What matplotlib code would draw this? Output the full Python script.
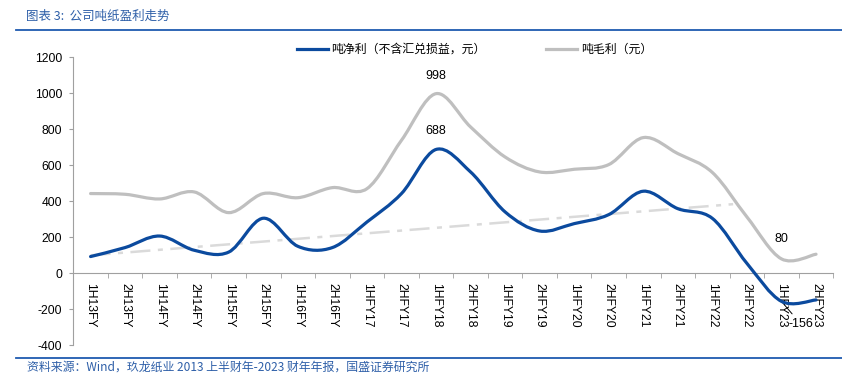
import matplotlib
matplotlib.use("Agg")
import matplotlib.pyplot as plt
import numpy as np
from matplotlib.path import Path
from matplotlib.patches import PathPatch
from matplotlib.lines import Line2D

plt.rcParams['font.family'] = ['Liberation Sans', 'Noto Sans CJK SC', 'DejaVu Sans']
plt.rcParams['axes.unicode_minus'] = False

# ---------------------------------------------------------------------------
# Data
# ---------------------------------------------------------------------------
periods = ["1H13FY", "2H13FY", "1H14FY", "2H14FY", "1H15FY", "2H15FY",
           "1H16FY", "2H16FY", "1HFY17", "2HFY17", "1HFY18", "2HFY18",
           "1HFY19", "2HFY19", "1HFY20", "2HFY20", "1HFY21", "2HFY21",
           "1HFY22", "2HFY22", "1HFY23", "2HFY23"]
net_profit = [93, 143, 207, 128, 118, 306, 150, 143, 285, 443, 688, 563,
              341, 235, 276, 326, 456, 359, 305, 55, -156, -148]
gross_profit = [443, 439, 413, 452, 337, 443, 420, 476, 470, 739, 998, 813,
                646, 563, 578, 604, 754, 665, 560, 313, 80, 106]
trend_x = [0, 18.6]
trend_y = [100, 384]

NET_LABEL = "吨净利（不含汇兑损益，元）"
GROSS_LABEL = "吨毛利（元）"
TITLE = "图表 3:  公司吨纸盈利走势"
SOURCE = "资料来源：Wind，玖龙纸业 2013 上半财年-2023 财年年报，国盛证券研究所"

BLUE = "#0B4A9E"
GRAY = "#BFBFBF"
TREND = "#DADADA"
HEAD = "#2E5FA8"


def smooth_path(xs, ys):
    """Excel-like smoothed line as cubic Bezier segments."""
    pts = np.column_stack([xs, ys]).astype(float)
    padded = np.vstack([pts[0], pts, pts[-1]])
    verts = [pts[0]]
    codes = [Path.MOVETO]
    for i in range(len(pts) - 1):
        p0, p1, p2, p3 = padded[i], padded[i + 1], padded[i + 2], padded[i + 3]
        verts += [p1 + (p2 - p0) / 6, p2 - (p3 - p1) / 6, p2]
        codes += [Path.CURVE4] * 3
    return Path(verts, codes)


W, H = 842, 383
fig = plt.figure(figsize=(W / 100, H / 100), dpi=100)
ax = fig.add_axes([73.3 / W, 1 - 345.3 / H, 760 / W, 288 / H])

x = np.arange(len(periods))

ax.plot(trend_x, trend_y, color=TREND, lw=1.8, dashes=(8, 3, 2, 3), zorder=2)
ax.add_patch(PathPatch(smooth_path(x, gross_profit), fill=False, ec=GRAY,
                       lw=2.3, capstyle="round", zorder=3))
ax.add_patch(PathPatch(smooth_path(x, net_profit), fill=False, ec=BLUE,
                       lw=2.3, capstyle="round", zorder=4))

ax.set_xlim(-0.5, len(periods) - 0.5)
ax.set_ylim(-400, 1200)
ax.set_yticks(np.arange(-400, 1201, 200))
ax.set_xticks(x)
ax.set_xticks(np.arange(-0.5, len(periods), 1), minor=True)
ax.set_xticklabels(periods)
ax.tick_params(axis="x", which="major", length=0, pad=7, labelsize=8.7,
               labelrotation=270)
ax.tick_params(axis="x", which="minor", length=3.5, color="#A0A0A0", direction="out")
ax.tick_params(axis="y", length=3, color="#A0A0A0", pad=5, labelsize=8.7)
for lab in ax.get_xticklabels():
    lab.set_va("top")
    lab.set_ha("center")

for s in ("top", "right"):
    ax.spines[s].set_visible(False)
ax.spines["bottom"].set_position(("data", 0))
ax.spines["bottom"].set_color("#A0A0A0")
ax.spines["left"].set_color("#A0A0A0")

# data labels
i_peak = 10
ax.annotate(f"{gross_profit[i_peak]}", (i_peak, gross_profit[i_peak]),
            xytext=(0, 13), textcoords="offset points", ha="center", va="center", fontsize=9)
ax.annotate(f"{net_profit[i_peak]}", (i_peak, net_profit[i_peak]),
            xytext=(0, 13), textcoords="offset points", ha="center", va="center", fontsize=9)
ax.annotate(f"{gross_profit[20]}", (20, gross_profit[20]),
            xytext=(0, 14), textcoords="offset points", ha="center", va="center", fontsize=9)
ax.annotate(f"{net_profit[20]}", (20, net_profit[20]),
            xytext=(20.55, -280), textcoords="data", ha="center", va="center", fontsize=9,
            arrowprops=dict(arrowstyle="-", color="black", lw=0.7, shrinkA=1, shrinkB=0))

# legend
fig.add_artist(Line2D([297 / W, 328 / W], [1 - 49 / H] * 2, color=BLUE, lw=2.3))
fig.text(331 / W, 1 - 49 / H, NET_LABEL, fontsize=8.6, va="center",
         family=["Noto Sans CJK SC"])
fig.add_artist(Line2D([546 / W, 577 / W], [1 - 49 / H] * 2, color=GRAY, lw=2.3))
fig.text(581 / W, 1 - 49 / H, GROSS_LABEL, fontsize=8.6, va="center",
         family=["Noto Sans CJK SC"])

# header / footer
fig.text(26 / W, 1 - 16 / H, TITLE, fontsize=9, color=HEAD, va="center",
         family=["Noto Sans CJK SC", "DejaVu Sans"])
fig.add_artist(Line2D([16 / W, 1.0], [1 - 30 / H] * 2, color="#1F5BB0", lw=1.3))
fig.add_artist(Line2D([16 / W, 1.0], [1 - 358 / H] * 2, color="#1F5BB0", lw=1.3))
fig.text(27 / W, 1 - 367 / H, SOURCE, fontsize=8.6, color=HEAD, va="center",
         family=["Noto Sans CJK SC", "DejaVu Sans"])

fig.savefig("out.png", dpi=100)
